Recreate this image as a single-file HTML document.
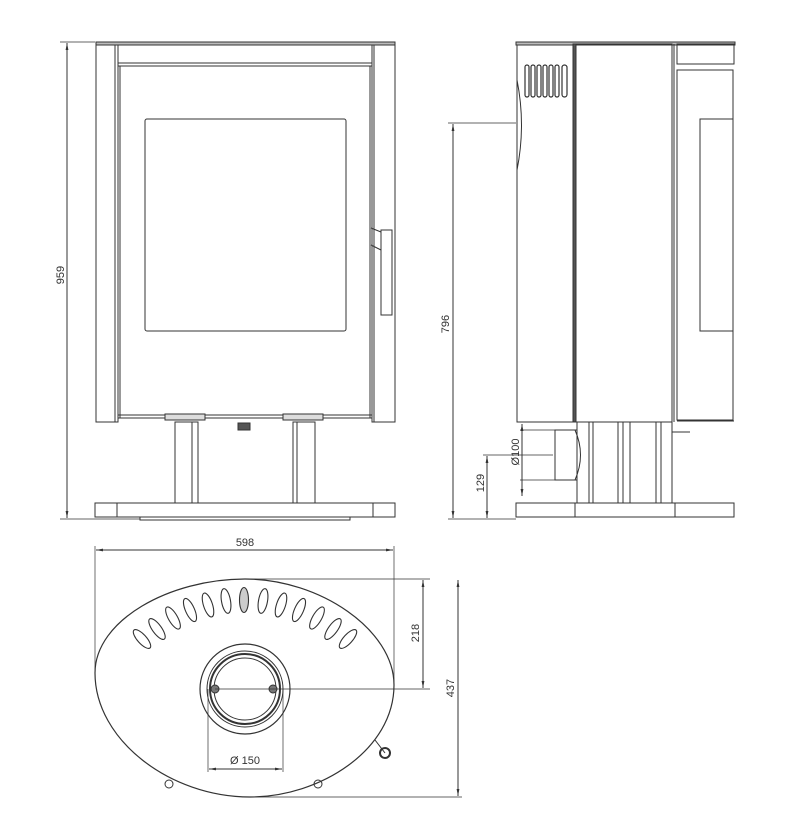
<!DOCTYPE html>
<html><head><meta charset="utf-8"><style>
html,body{margin:0;padding:0;background:#fff;}
svg{display:block;}
text{font-family:"Liberation Sans",sans-serif;font-size:11px;fill:#333;}
</style></head><body>
<svg width="802" height="840" viewBox="0 0 802 840" xmlns="http://www.w3.org/2000/svg">
<defs>
<marker id="a" viewBox="0 0 10 10" refX="10" refY="5" markerWidth="7" markerHeight="7" orient="auto-start-reverse"><path d="M0,3 L10,5 L0,7 z" fill="#333"/></marker>
</defs>
<g fill="none" stroke="#333" stroke-width="1">
<!-- FRONT VIEW -->
<line x1="67" y1="43" x2="67" y2="518" marker-start="url(#a)" marker-end="url(#a)"/>
<line x1="60" y1="42" x2="95" y2="42" stroke-width="0.7"/>
<line x1="60" y1="519" x2="140" y2="519" stroke-width="0.7"/>
<rect x="96" y="42" width="299" height="3" fill="#bbb"/>
<rect x="96" y="45" width="22" height="377"/>
<rect x="372" y="45" width="23" height="377"/>
<line x1="115" y1="45" x2="115" y2="422"/>
<line x1="374" y1="45" x2="374" y2="422"/>
<rect x="118" y="63" width="254" height="355"/>
<line x1="118" y1="66" x2="372" y2="66"/>
<line x1="120" y1="66" x2="120" y2="418"/>
<line x1="370" y1="66" x2="370" y2="418"/>
<rect x="145" y="119" width="201" height="212" rx="2"/>
<rect x="381" y="230" width="11" height="85"/>
<path d="M371,228 L381,232 M371,245 L381,250"/>
<line x1="118" y1="415" x2="372" y2="415"/>
<rect x="165" y="414" width="40" height="6" fill="#ddd"/>
<rect x="283" y="414" width="40" height="6" fill="#ddd"/>
<rect x="238" y="423" width="12" height="7" fill="#555"/>
<rect x="175" y="422" width="23" height="81"/>
<line x1="192" y1="422" x2="192" y2="503"/>
<rect x="293" y="422" width="22" height="81"/>
<line x1="297" y1="422" x2="297" y2="503"/>
<rect x="95" y="503" width="300" height="14"/>
<line x1="117" y1="503" x2="117" y2="517"/>
<line x1="373" y1="503" x2="373" y2="517"/>
<rect x="140" y="517" width="210" height="3"/>
<!-- SIDE VIEW -->
<rect x="516" y="42" width="219" height="3" fill="#bbb"/>
<rect x="517" y="45" width="56" height="377"/>
<path d="M517,80 Q526,125 517,170"/>
<g stroke-width="1.2">
<rect x="525" y="65" width="4" height="32" rx="2"/><rect x="531" y="65" width="4" height="32" rx="2"/><rect x="537" y="65" width="4" height="32" rx="2"/><rect x="543" y="65" width="4" height="32" rx="2"/><rect x="549" y="65" width="4" height="32" rx="2"/><rect x="555" y="65" width="4" height="32" rx="2"/><rect x="562" y="65" width="5" height="32" rx="2.5"/>
</g>
<rect x="573" y="44" width="3" height="378" fill="#555"/>
<rect x="576" y="44" width="96" height="378"/>
<line x1="674" y1="44" x2="674" y2="422"/>
<rect x="677" y="44" width="57" height="20"/>
<rect x="677" y="70" width="56" height="350"/>
<rect x="700" y="119" width="33" height="212"/>
<line x1="677" y1="421" x2="734" y2="421"/>
<rect x="555" y="430" width="22" height="50"/>
<path d="M575,430 Q586,455 575,480"/>
<line x1="577" y1="422" x2="577" y2="503"/>
<line x1="589" y1="422" x2="589" y2="503"/><line x1="593" y1="422" x2="593" y2="503"/>
<line x1="618" y1="422" x2="618" y2="503"/><line x1="623" y1="422" x2="623" y2="503"/><line x1="630" y1="422" x2="630" y2="503"/>
<line x1="656" y1="422" x2="656" y2="503"/><line x1="661" y1="422" x2="661" y2="503"/>
<line x1="672" y1="422" x2="672" y2="503"/>
<line x1="672" y1="432" x2="690" y2="432"/>
<rect x="516" y="503" width="218" height="14"/>
<line x1="575" y1="503" x2="575" y2="517"/>
<line x1="675" y1="503" x2="675" y2="517"/>
<line x1="453" y1="124" x2="453" y2="518" marker-start="url(#a)" marker-end="url(#a)"/>
<line x1="448" y1="123" x2="516" y2="123" stroke-width="0.7"/>
<line x1="448" y1="519" x2="516" y2="519" stroke-width="0.7"/>
<line x1="487" y1="456" x2="487" y2="518" marker-start="url(#a)" marker-end="url(#a)"/>
<line x1="483" y1="455" x2="553" y2="455" stroke-width="0.7"/>
<line x1="522" y1="424" x2="522" y2="496" marker-start="url(#a)" marker-end="url(#a)"/>
<line x1="520" y1="430" x2="555" y2="430" stroke-width="0.7"/>
<line x1="520" y1="480" x2="555" y2="480" stroke-width="0.7"/>
<!-- TOP VIEW -->
<line x1="96" y1="550" x2="393" y2="550" marker-start="url(#a)" marker-end="url(#a)"/>
<line x1="95" y1="546" x2="95" y2="675" stroke-width="0.7"/>
<line x1="394" y1="546" x2="394" y2="688" stroke-width="0.7"/>
<path d="M245,579 C320,579 394,630 394,685 C394,750 320,797 250,797 C170,797 95,740 95,673 C95,620 170,579 245,579 Z" stroke-width="1.2"/>
<circle cx="245" cy="689" r="45" stroke-width="1.2"/>
<circle cx="245" cy="689" r="38"/>
<circle cx="245" cy="689" r="35" stroke-width="2"/>
<circle cx="245" cy="689" r="31"/>
<circle cx="215" cy="689" r="4" fill="#777"/>
<circle cx="273" cy="689" r="4" fill="#777"/>
<line x1="215" y1="689" x2="430" y2="689" stroke-width="0.8"/>
<line x1="245" y1="579" x2="430" y2="579" stroke-width="0.7"/>
<line x1="250" y1="797" x2="462" y2="797" stroke-width="0.7"/>
<line x1="423" y1="580" x2="423" y2="688" marker-start="url(#a)" marker-end="url(#a)"/>
<line x1="458" y1="580" x2="458" y2="796" marker-start="url(#a)" marker-end="url(#a)"/>
<line x1="208" y1="689" x2="208" y2="772" stroke-width="0.7"/>
<line x1="283" y1="689" x2="283" y2="772" stroke-width="0.7"/>
<line x1="209" y1="769" x2="282" y2="769" marker-start="url(#a)" marker-end="url(#a)"/>
<g stroke-width="1.1">
<ellipse cx="142" cy="639" rx="4.5" ry="12" transform="rotate(-42 142 639)"/>
<ellipse cx="157" cy="629" rx="4.5" ry="12.5" transform="rotate(-36 157 629)"/>
<ellipse cx="173" cy="618" rx="4.5" ry="12.5" transform="rotate(-30 173 618)"/>
<ellipse cx="190" cy="610" rx="4.5" ry="12.5" transform="rotate(-24 190 610)"/>
<ellipse cx="208" cy="605" rx="4.5" ry="12.5" transform="rotate(-18 208 605)"/>
<ellipse cx="226" cy="601" rx="4.5" ry="12.5" transform="rotate(-10 226 601)"/>
<ellipse cx="244" cy="600" rx="4.5" ry="12.5" fill="#ccc"/>
<ellipse cx="263" cy="601" rx="4.5" ry="12.5" transform="rotate(10 263 601)"/>
<ellipse cx="281" cy="605" rx="4.5" ry="12.5" transform="rotate(18 281 605)"/>
<ellipse cx="299" cy="610" rx="4.5" ry="12.5" transform="rotate(24 299 610)"/>
<ellipse cx="317" cy="618" rx="4.5" ry="12.5" transform="rotate(30 317 618)"/>
<ellipse cx="333" cy="629" rx="4.5" ry="12.5" transform="rotate(36 333 629)"/>
<ellipse cx="348" cy="639" rx="4.5" ry="12" transform="rotate(42 348 639)"/>
</g>
<line x1="375" y1="740" x2="385" y2="753"/>
<circle cx="385" cy="753" r="5" stroke-width="2"/>
<circle cx="169" cy="784" r="4"/>
<circle cx="318" cy="784" r="4"/>
</g>
<g>
<text x="64" y="275" text-anchor="middle" transform="rotate(-90 64 275)">959</text>
<text x="449" y="324" text-anchor="middle" transform="rotate(-90 449 324)">796</text>
<text x="484" y="483" text-anchor="middle" transform="rotate(-90 484 483)">129</text>
<text x="519" y="452" text-anchor="middle" transform="rotate(-90 519 452)">Ø100</text>
<text x="245" y="546" text-anchor="middle">598</text>
<text x="419" y="633" text-anchor="middle" transform="rotate(-90 419 633)">218</text>
<text x="454" y="688" text-anchor="middle" transform="rotate(-90 454 688)">437</text>
<text x="245" y="764" text-anchor="middle">Ø 150</text>
</g>
</svg>
</body></html>
